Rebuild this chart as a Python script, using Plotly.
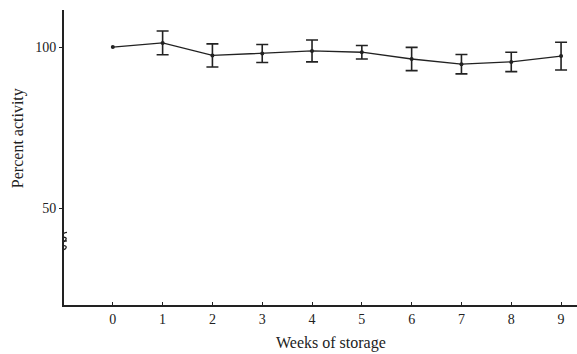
import plotly.graph_objects as go

weeks = [0, 1, 2, 3, 4, 5, 6, 7, 8, 9]
activity = [100.0, 101.3, 97.4, 98.0, 98.8, 98.4, 96.3, 94.7, 95.4, 97.2]
err = [0, 3.7, 3.6, 2.8, 3.4, 2.1, 3.6, 3.0, 3.0, 4.3]
x_ticks = [0, 1, 2, 3, 4, 5, 6, 7, 8, 9]
y_ticks = [50, 100]

ink = "#222222"
font_family = "Liberation Serif, DejaVu Serif, serif"

# only points with a nonzero spread carry error bars
eb_x = [w for w, e in zip(weeks, err) if e > 0]
eb_y = [a for a, e in zip(activity, err) if e > 0]
eb_e = [e for e in err if e > 0]

fig = go.Figure()
fig.add_trace(go.Scatter(
    x=eb_x, y=eb_y, mode="markers",
    marker=dict(color=ink, size=1, opacity=0),
    error_y=dict(type="data", array=eb_e, visible=True, color=ink, thickness=1.6, width=6),
    showlegend=False, hoverinfo="skip",
))
fig.add_trace(go.Scatter(
    x=weeks, y=activity, mode="lines+markers",
    line=dict(color=ink, width=1.3),
    marker=dict(color=ink, size=4),
    showlegend=False,
))

# axis break mark on y-axis
bx = -0.98
fig.add_shape(type="path", xref="x", yref="y",
              path=f"M {bx-0.05},{37.0} C {bx+0.07},{37.3} {bx+0.07},{38.6} {bx-0.02},{38.4} C {bx-0.09},{38.3} {bx-0.05},{39.7} {bx+0.06},{39.9}",
              line=dict(color=ink, width=1.3))
fig.add_shape(type="path", xref="x", yref="y",
              path=f"M {bx-0.05},{39.6} C {bx+0.07},{39.9} {bx+0.07},{41.2} {bx-0.02},{41.0} C {bx-0.09},{40.9} {bx-0.05},{42.3} {bx+0.06},{42.5}",
              line=dict(color=ink, width=1.3))

fig.update_layout(
    width=577, height=354,
    margin=dict(l=64, r=0, t=10, b=49),
    paper_bgcolor="white", plot_bgcolor="white",
    font=dict(family=font_family, size=14, color=ink),
    xaxis=dict(range=[-0.98, 9.32], tickmode="array", tickvals=x_ticks,
               ticktext=[str(t) for t in x_ticks],
               showgrid=False, zeroline=False, showline=True, linecolor=ink, linewidth=1.5,
               ticks="inside", ticklen=3, tickcolor=ink, tickfont=dict(size=14)),
    yaxis=dict(range=[20, 111.5], tickmode="array", tickvals=y_ticks,
               ticktext=[str(t) for t in y_ticks],
               showgrid=False, zeroline=False, showline=True, linecolor=ink, linewidth=1.8,
               ticks="outside", ticklen=3, tickcolor=ink, tickfont=dict(size=14)),
    annotations=[
        dict(text="Weeks of storage", xref="paper", yref="paper", x=0.52, y=-0.093,
             xanchor="center", yanchor="top", showarrow=False, font=dict(size=16, color=ink)),
        dict(text="Percent activity", xref="paper", yref="paper", x=-0.09, y=0.565,
             xanchor="center", yanchor="middle", textangle=-90, showarrow=False,
             font=dict(size=16, color=ink)),
    ],
)

fig.write_html("out.html")
